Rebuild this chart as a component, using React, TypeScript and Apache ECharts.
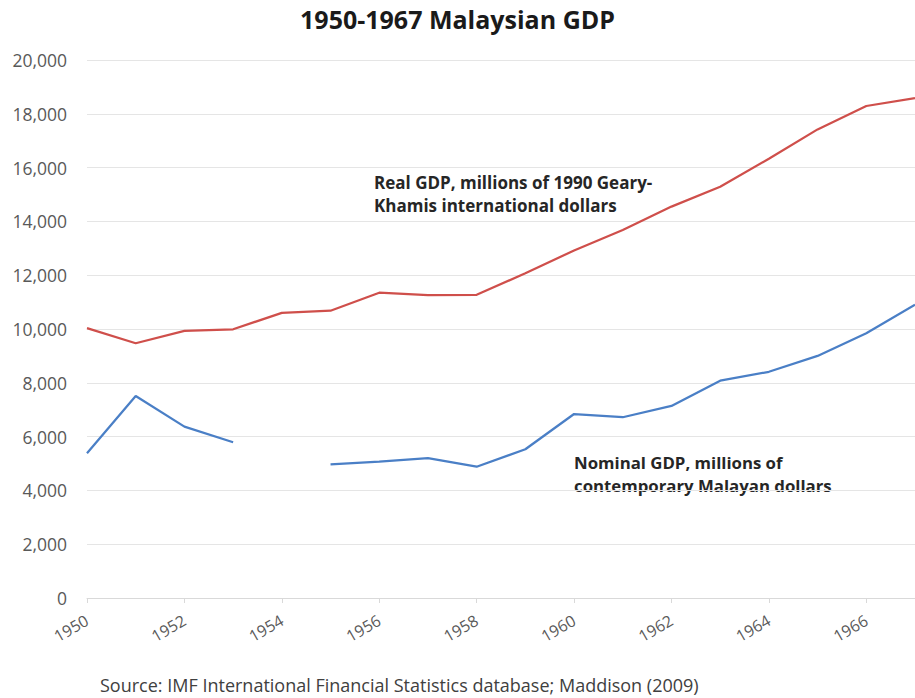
import React, { useEffect, useRef } from "react";
import * as echarts from "echarts";

const years = ["1950","1951","1952","1953","1954","1955","1956","1957","1958","1959","1960","1961","1962","1963","1964","1965","1966","1967"];
const realGDP = [10030, 9470, 9930, 9990, 10600, 10680, 11350, 11260, 11270, 12070, 12920, 13680, 14550, 15290, 16330, 17420, 18290, 18580];
const nominalGDP: (number | null)[] = [5380, 7510, 6370, 5790, null, 4970, 5070, 5200, 4880, 5530, 6840, 6720, 7140, 8080, 8410, 9000, 9840, 10900];
const titleText = "1950-1967 Malaysian GDP";
const realLabel = ["Real GDP, millions of 1990 Geary-", "Khamis international dollars"];
const nominalLabel = ["Nominal GDP, millions of", "contemporary Malayan dollars"];
const sourceText = "Source: IMF International Financial Statistics database; Maddison (2009)";

const FONT = "'Open Sans', 'Noto Sans', sans-serif";

export default function App() {
  const ref = useRef<HTMLDivElement>(null);
  useEffect(() => {
    document.body.style.margin = "0";
    if (!ref.current) return;
    const chart = echarts.init(ref.current, null, { renderer: "svg" });
    chart.setOption({
      animation: false,
      backgroundColor: "#ffffff",
      textStyle: { fontFamily: FONT },
      title: {
        text: titleText,
        left: "center",
        top: 1,
        textStyle: { fontFamily: FONT, fontSize: 25, fontWeight: "bold", color: "#1a1a1a" },
      },
      grid: { left: 87, right: -6, top: 60, bottom: 100, containLabel: false },
      xAxis: {
        type: "category",
        data: years,
        boundaryGap: false,
        axisLine: { show: true, lineStyle: { color: "#d9d9d9", width: 1 } },
        axisTick: { show: true, interval: 1, length: 5, lineStyle: { color: "#d9d9d9" } },
        axisLabel: {
          interval: 1,
          rotate: 30,
          margin: 21,
          fontFamily: FONT,
          fontSize: 16,
          color: "#595959",
        },
        splitLine: { show: false },
      },
      yAxis: {
        type: "value",
        min: 0,
        max: 20000,
        interval: 2000,
        axisLine: { show: false },
        axisTick: { show: false },
        axisLabel: {
          margin: 20,
          fontFamily: FONT,
          fontSize: 17.5,
          color: "#595959",
          formatter: (v: number) => v.toLocaleString("en-US"),
        },
        splitLine: { lineStyle: { color: "#e5e5e5", width: 1 } },
      },
      series: [
        {
          name: "Real GDP",
          type: "line",
          data: realGDP,
          symbol: "none",
          lineStyle: { color: "#cf4f4b", width: 2.25 },
          clip: true,
        },
        {
          name: "Nominal GDP",
          type: "line",
          data: nominalGDP,
          symbol: "none",
          connectNulls: false,
          lineStyle: { color: "#4a7fc6", width: 2.25 },
          clip: true,
        },
      ],
      graphic: [
        {
          type: "text",
          left: 374,
          top: 171,
          style: {
            text: realLabel.join("\n"),
            fontFamily: FONT,
            fontSize: 17,
            fontWeight: "bold",
            lineHeight: 23,
            fill: "#262626",
          },
        },
        {
          type: "text",
          left: 574,
          top: 451,
          style: {
            text: nominalLabel.join("\n"),
            fontFamily: FONT,
            fontSize: 16.8,
            fontWeight: "bold",
            lineHeight: 23,
            fill: "#262626",
          },
        },
        {
          type: "text",
          left: 100,
          top: 676,
          style: {
            text: sourceText,
            fontFamily: FONT,
            fontSize: 18,
            fill: "#404040",
          },
        },
      ],
    });
    return () => chart.dispose();
  }, []);
  return <div ref={ref} style={{ width: 915, height: 698 }} />;
}
